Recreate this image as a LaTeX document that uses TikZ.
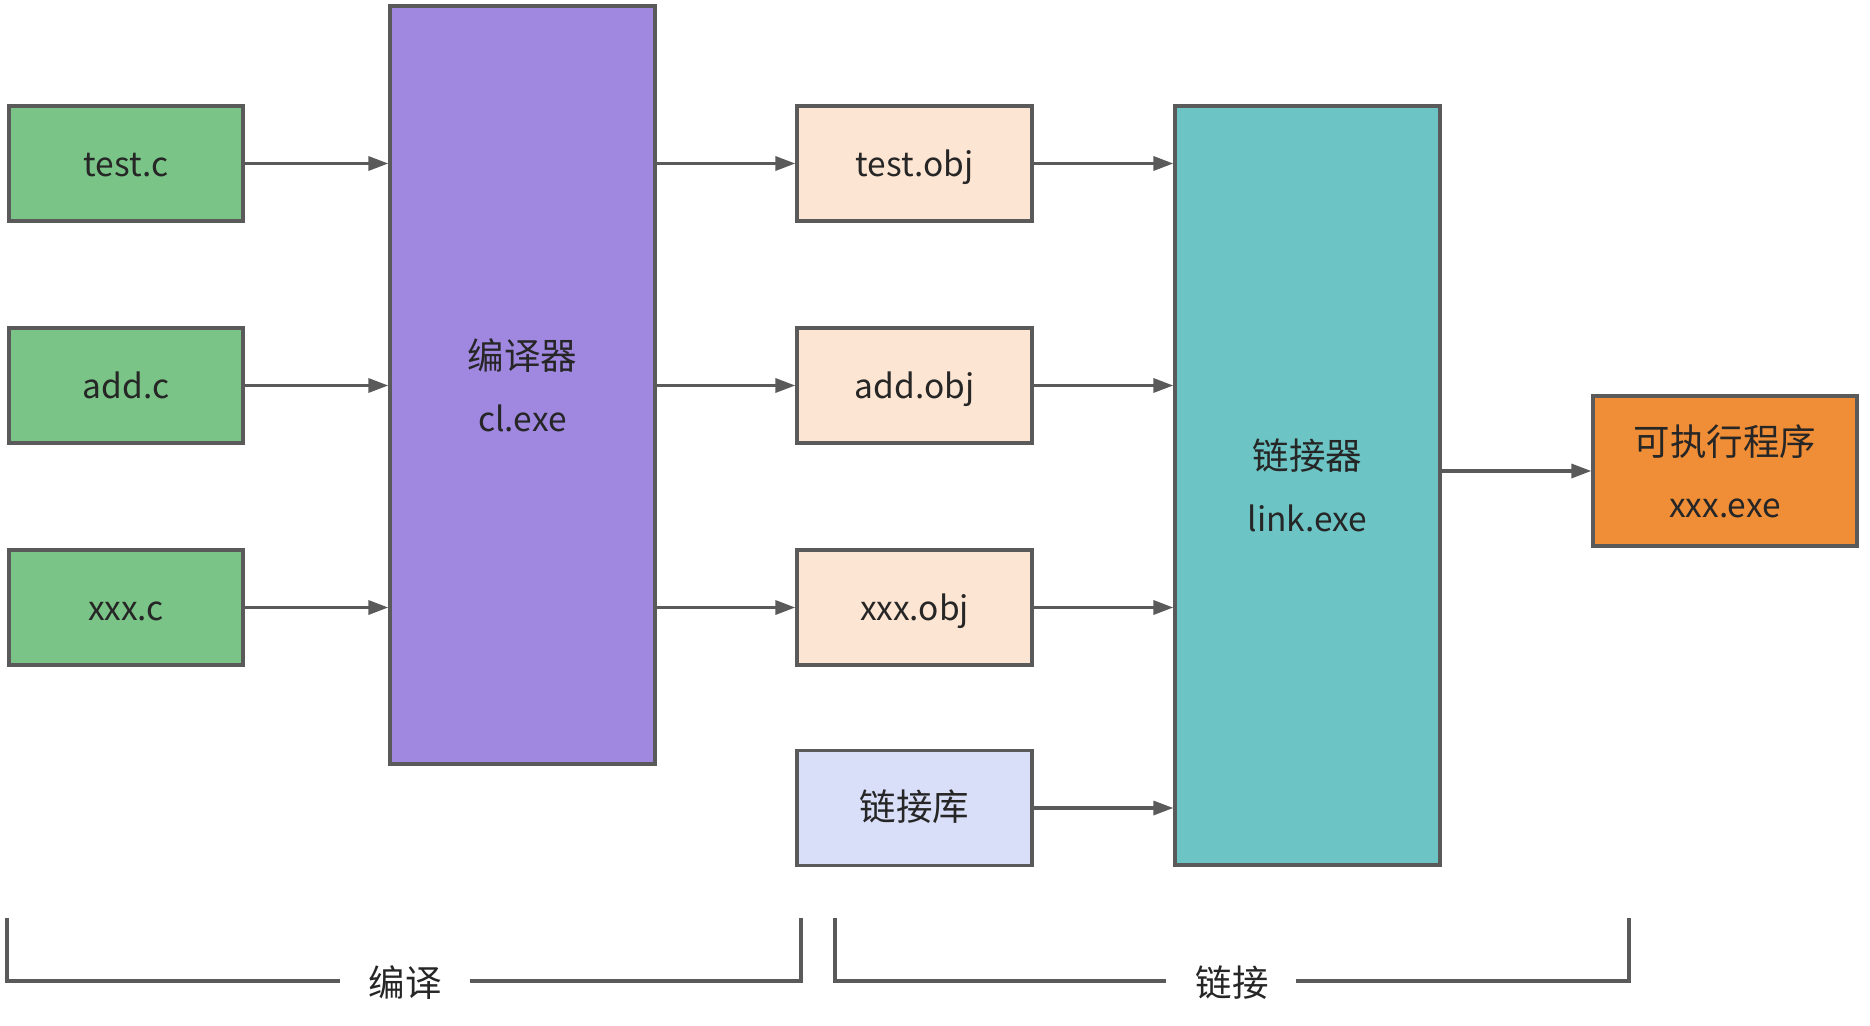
\documentclass[tikz,border=0pt]{standalone}
\usepackage{fontspec}
\setmainfont{Noto Sans CJK SC}
\usetikzlibrary{arrows.meta}
\definecolor{edge}{RGB}{90,90,90}
\definecolor{txt}{RGB}{38,38,38}
\definecolor{cgreen}{RGB}{122,196,135}
\definecolor{cpurple}{RGB}{160,135,224}
\definecolor{cpeach}{RGB}{253,229,211}
\definecolor{clav}{RGB}{218,223,249}
\definecolor{cteal}{RGB}{108,196,196}
\definecolor{corange}{RGB}{240,142,55}
\newcommand\zh[1]{{\fontsize{36.5}{62}\selectfont #1}}
\tikzset{
  base/.style={draw=edge, line width=3.3pt, rectangle, text=txt, align=center,
    font=\fontsize{33.5}{62}\selectfont, inner sep=0pt},
  one/.style={text height=25pt, text depth=0pt},
  srcbox/.style={base, one, fill=cgreen, minimum width=234pt, minimum height=115pt},
  objbox/.style={base, one, fill=cpeach, minimum width=235pt, minimum height=115pt},
  libbox/.style={base, one, fill=clav, minimum width=235pt, minimum height=115pt},
  conn/.style={draw=edge, line width=3.3pt, -{Triangle[length=20pt,width=14pt]}},
  brk/.style={draw=edge, line width=3.3pt},
  lbl/.style={text=txt, inner sep=0pt}
}
\begin{document}
\begin{tikzpicture}[x=1pt,y=-1pt]
\useasboundingbox (0,0) rectangle (1870,1025);
% sources
\node[srcbox] (tc) at (126,163.5) {test.c};
\node[srcbox] (ac) at (126,385.5) {add.c};
\node[srcbox] (xc) at (126,607.5) {xxx.c};
% compiler
\node[base, fill=cpurple, minimum width=265pt, minimum height=758pt] (cc) at (522.5,385) {\zh{编译器}\\cl.exe};
% objs
\node[objbox] (to) at (914.5,163.5) {test.obj};
\node[objbox] (ao) at (914.5,385.5) {add.obj};
\node[objbox] (xo) at (914.5,607.5) {xxx.obj};
\node[libbox] (lib) at (914.5,808) {\zh{链接库}};
% linker
\node[base, fill=cteal, minimum width=265pt, minimum height=759pt] (ln) at (1307.5,485.5) {\zh{链接器}\\link.exe};
% exe
\node[base, fill=corange, minimum width=264pt, minimum height=150pt] (exe) at (1725,471) {\zh{可执行程序}\\xxx.exe};
% arrows
\draw[conn] (tc.east) -- (cc.west |- tc.east);
\draw[conn] (ac.east) -- (cc.west |- ac.east);
\draw[conn] (xc.east) -- (cc.west |- xc.east);
\draw[conn] (cc.east |- to.west) -- (to.west);
\draw[conn] (cc.east |- ao.west) -- (ao.west);
\draw[conn] (cc.east |- xo.west) -- (xo.west);
\draw[conn] (to.east) -- (ln.west |- to.east);
\draw[conn] (ao.east) -- (ln.west |- ao.east);
\draw[conn] (xo.east) -- (ln.west |- xo.east);
\draw[conn] (lib.east) -- (ln.west |- lib.east);
\draw[conn] (ln.east |- exe.west) -- (exe.west);
% brackets
\coordinate (b1a) at (7,918);
\coordinate (b1b) at (7,981);
\coordinate (b1c) at (340,981);
\coordinate (b1d) at (470,981);
\coordinate (b1e) at (801,981);
\coordinate (b1f) at (801,918);
\node[lbl] (l1) at (405,983) {\zh{编译}};
\draw[brk] (b1a) -- (b1b) -- (b1c);
\draw[brk] (b1d) -- (b1e) -- (b1f);
\coordinate (b2a) at (835,918);
\coordinate (b2b) at (835,981);
\coordinate (b2c) at (1166,981);
\coordinate (b2d) at (1296,981);
\coordinate (b2e) at (1629,981);
\coordinate (b2f) at (1629,918);
\node[lbl] (l2) at (1232,983) {\zh{链接}};
\draw[brk] (b2a) -- (b2b) -- (b2c);
\draw[brk] (b2d) -- (b2e) -- (b2f);
\end{tikzpicture}
\end{document}
